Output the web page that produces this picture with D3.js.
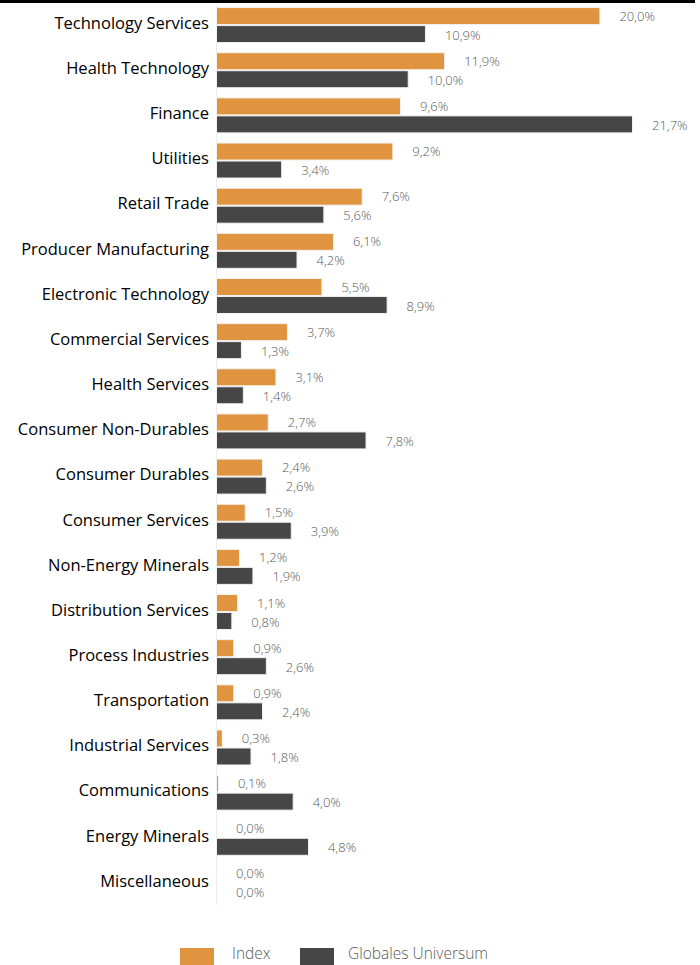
<!DOCTYPE html>
<html>
<head>
<meta charset="utf-8">
<script src="https://cdn.jsdelivr.net/npm/d3@7"></script>
<style>
  body { margin: 0; background: #fff; }
  svg { display: block; }
</style>
</head>
<body>
<div id="chart"></div>
<script>
const categories = [
  'Technology Services', 'Health Technology', 'Finance', 'Utilities', 'Retail Trade',
  'Producer Manufacturing', 'Electronic Technology', 'Commercial Services', 'Health Services',
  'Consumer Non-Durables', 'Consumer Durables', 'Consumer Services', 'Non-Energy Minerals',
  'Distribution Services', 'Process Industries', 'Transportation', 'Industrial Services',
  'Communications', 'Energy Minerals', 'Miscellaneous',
];
const indexValues = [20.0, 11.9, 9.6, 9.2, 7.6, 6.1, 5.5, 3.7, 3.1, 2.7, 2.4, 1.5, 1.2, 1.1, 0.9, 0.9, 0.3, 0.1, 0.0, 0.0];
const globalValues = [10.9, 10.0, 21.7, 3.4, 5.6, 4.2, 8.9, 1.3, 1.4, 7.8, 2.6, 3.9, 1.9, 0.8, 2.6, 2.4, 1.8, 4.0, 4.8, 0.0];
const seriesNames = ['Index', 'Globales Universum'];
const seriesColors = ['#e09440', '#464646'];

const width = 700;
const height = 965;
const font = "'Open Sans', 'Noto Sans', sans-serif";

const svg = d3.select('#chart')
  .append('svg')
  .attr('width', width)
  .attr('height', height);

// black rule at the very top
svg.append('line')
  .attr('x1', 0).attr('x2', 695)
  .attr('y1', 1.5).attr('y2', 1.5)
  .attr('stroke', '#000')
  .attr('stroke-width', 3);

const x = d3.scaleLinear().domain([0, 21.7]).range([216, 632]);
const y = d3.scaleBand().domain(categories).range([2.5, 905.5]);

// faint category axis
svg.append('line')
  .attr('x1', x(0) + 0.5).attr('x2', x(0) + 0.5)
  .attr('y1', 5).attr('y2', 905)
  .attr('stroke', '#ececec');

const barH = 17;
const fmt = (v) => `${v.toFixed(1).replace('.', ',')}%`;
const mid = (c) => y(c) + y.bandwidth() / 2;

[indexValues, globalValues].forEach((vals, s) => {
  const top = (c) => (s === 0 ? mid(c) - barH - 0.5 : mid(c) + 0.5);

  svg.append('g')
    .selectAll('rect')
    .data(categories)
    .join('rect')
    .attr('x', x(0) + 0.5)
    .attr('y', (c) => top(c))
    .attr('width', (c, i) => Math.max(0, x(vals[i]) - x(0)))
    .attr('height', barH)
    .attr('fill', seriesColors[s])
    .attr('stroke', (c, i) => (vals[i] > 0 ? '#f2f2f2' : 'none'))
    .attr('stroke-width', 1);

  svg.append('g')
    .selectAll('text')
    .data(categories)
    .join('text')
    .attr('x', (c, i) => x(vals[i]) + 20)
    .attr('y', (c) => top(c) + barH / 2 + (s === 0 ? 0 : 1))
    .attr('dy', '0.35em')
    .style('font-family', font)
    .style('font-weight', 300)
    .style('font-size', '13px')
    .attr('fill', '#595959')
    .text((c, i) => fmt(vals[i]));
});

// category labels
svg.append('g')
  .selectAll('text')
  .data(categories)
  .join('text')
  .attr('x', 209)
  .attr('y', (c) => mid(c) - 2)
  .attr('dy', '0.35em')
  .attr('text-anchor', 'end')
  .style('font-family', font)
  .style('font-size', '16.5px')
  .attr('fill', '#000')
  .text((c) => c);

// legend
const legend = svg.append('g');
const legendX = [180, 300];
seriesNames.forEach((name, s) => {
  legend.append('rect')
    .attr('x', legendX[s]).attr('y', 948)
    .attr('width', 34).attr('height', 18)
    .attr('fill', seriesColors[s]);
  legend.append('text')
    .attr('x', legendX[s] + 52 - (s === 1 ? 4 : 0))
    .attr('y', 954)
    .attr('dy', '0.35em')
    .style('font-family', font)
    .style('font-weight', 300)
    .style('font-size', '15.5px')
    .attr('fill', '#595959')
    .text(name);
});
</script>
</body>
</html>
